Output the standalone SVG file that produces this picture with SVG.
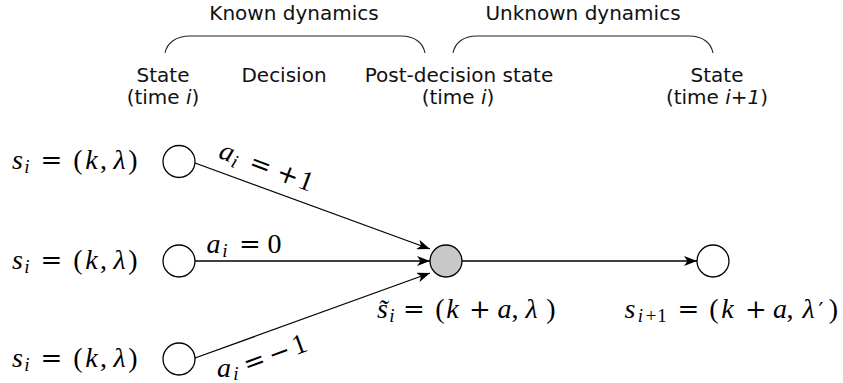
<svg xmlns="http://www.w3.org/2000/svg" width="843" height="383" viewBox="0 0 843 383">
<style>
.lbl{font-family:"DejaVu Sans",sans-serif;font-size:20px;fill:#111;text-anchor:middle}
.m{font-family:"Liberation Serif",serif;font-size:28px;fill:#000;text-anchor:middle}
.v{font-style:italic}
.sub{font-size:19px}
.op{font-family:"DejaVu Serif",serif;font-size:26px}
.node{stroke:#000;stroke-width:1.3;fill:#fff}
.conn{stroke:#000;stroke-width:1.3;fill:none}
.brace{stroke:#222;stroke-width:1.1;fill:none}
</style>
<defs>
<marker id="arr" markerUnits="userSpaceOnUse" viewBox="0 0 13 10" refX="13" refY="5" markerWidth="13" markerHeight="10" orient="auto">
<path d="M0,0 L13,5 L0,10 L3.5,5 Z" fill="#000"/>
</marker>
</defs>
<rect width="843" height="383" fill="#fff"/>

<g id="headers">
<text class="lbl" x="294" y="20">Known dynamics</text>
<text class="lbl" x="583" y="20">Unknown dynamics</text>
<path class="brace" d="M165,53 C167,43 176,36 190,36 H401 C415,36 423,43 425,53"/>
<path class="brace" d="M453,53 C455,43 463,36 477,36 H689 C703,36 711,43 713,53"/>
<text class="lbl" x="163" y="82">State</text>
<text class="lbl" x="163" y="104">(time <tspan font-style="italic">i</tspan>)</text>
<text class="lbl" x="284" y="82">Decision</text>
<text class="lbl" x="459" y="82">Post-decision state</text>
<text class="lbl" x="458" y="104">(time <tspan font-style="italic">i</tspan>)</text>
<text class="lbl" x="717" y="82">State</text>
<text class="lbl" x="717" y="104">(time <tspan font-style="italic">i+1</tspan>)</text>
</g>

<g id="connectors">
<line class="conn" x1="195" y1="163" x2="430" y2="249" marker-end="url(#arr)"/>
<line class="conn" x1="195" y1="261" x2="430" y2="261" marker-end="url(#arr)"/>
<line class="conn" x1="195" y1="358" x2="430" y2="273" marker-end="url(#arr)"/>
<line class="conn" x1="462" y1="261" x2="697" y2="261" marker-end="url(#arr)"/>
</g>

<g id="s-top">
<circle class="node" cx="179" cy="161.5" r="16"/>
<text class="m" y="169"><tspan class="v" x="17.5">s</tspan><tspan class="v sub" x="27" y="173">i</tspan><tspan class="op" x="51.5" y="169">=</tspan><tspan x="78">(</tspan><tspan class="v" x="91.5">k</tspan><tspan x="103.5">,</tspan><tspan class="v" x="119.5">λ</tspan><tspan x="133">)</tspan></text>
</g>
<g id="s-mid">
<circle class="node" cx="179" cy="261" r="16"/>
<text class="m" y="269"><tspan class="v" x="17.5">s</tspan><tspan class="v sub" x="27" y="273">i</tspan><tspan class="op" x="51.5" y="269">=</tspan><tspan x="78">(</tspan><tspan class="v" x="91.5">k</tspan><tspan x="103.5">,</tspan><tspan class="v" x="119.5">λ</tspan><tspan x="133">)</tspan></text>
</g>
<g id="s-bot">
<circle class="node" cx="179" cy="359" r="16"/>
<text class="m" y="367"><tspan class="v" x="17.5">s</tspan><tspan class="v sub" x="27" y="371">i</tspan><tspan class="op" x="51.5" y="367">=</tspan><tspan x="78">(</tspan><tspan class="v" x="91.5">k</tspan><tspan x="103.5">,</tspan><tspan class="v" x="119.5">λ</tspan><tspan x="133">)</tspan></text>
</g>

<g id="post-decision">
<circle class="node" cx="446" cy="261" r="16" style="fill:#c8c8c8"/>
<text class="m" y="318"><tspan class="v" x="382.5">s̃</tspan><tspan class="v sub" x="392" y="322">i</tspan><tspan class="op" x="414" y="318">=</tspan><tspan x="440">(</tspan><tspan class="v" x="452.5">k</tspan><tspan class="op" x="480">+</tspan><tspan class="v" x="504.5">a</tspan><tspan x="515">,</tspan><tspan class="v" x="531.5">λ</tspan><tspan x="551">)</tspan></text>
</g>

<g id="s-next">
<circle class="node" cx="713" cy="261" r="16"/>
<text class="m" y="318"><tspan class="v" x="630">s</tspan><tspan class="v sub" x="640.5" y="322">i</tspan><tspan class="sub" x="651" y="322">+</tspan><tspan class="sub" x="662" y="322">1</tspan><tspan class="op" x="688.5" y="318">=</tspan><tspan x="714">(</tspan><tspan class="v" x="727.5">k</tspan><tspan class="op" x="756">+</tspan><tspan class="v" x="780">a</tspan><tspan x="790">,</tspan><tspan class="v" x="808.5">λ</tspan><tspan class="op" x="821" style="font-size:22px">′</tspan><tspan x="833.5">)</tspan></text>
</g>

<g id="edge-labels">
<g transform="translate(260,166.5) rotate(20.5)">
<text class="m" y="6.5"><tspan class="v" x="-36">a</tspan><tspan class="v sub" x="-25.5" y="10.5">i</tspan><tspan class="op" x="0" y="6.5">=</tspan><tspan class="op" x="29">+</tspan><tspan x="48.5">1</tspan></text>
</g>
<text class="m" y="253"><tspan class="v" x="213.5">a</tspan><tspan class="v sub" x="225" y="257">i</tspan><tspan class="op" x="250" y="253">=</tspan><tspan x="274.5">0</tspan></text>
<text class="m" y="377"><tspan class="v" x="224">a</tspan><tspan class="v sub" x="236" y="380">i</tspan></text>
<g transform="translate(255,363.5) rotate(-20.3)">
<text class="m" y="6.5"><tspan class="op" x="0">=</tspan><tspan class="op" x="26.6">−</tspan><tspan x="48">1</tspan></text>
</g>
</g>
</svg>
